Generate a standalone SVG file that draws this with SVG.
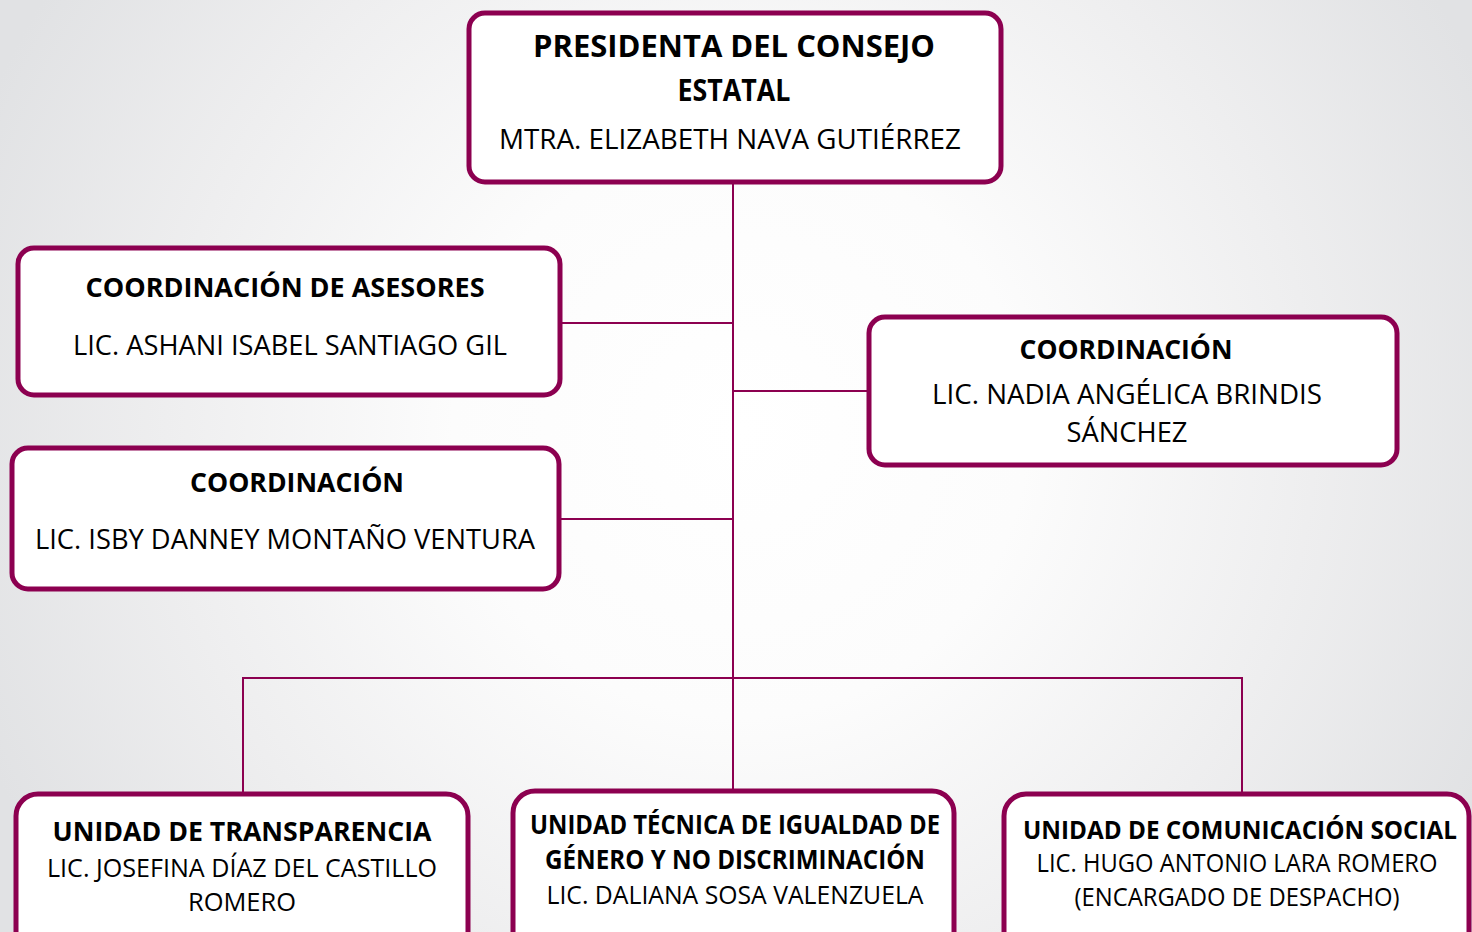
<svg xmlns="http://www.w3.org/2000/svg" width="1472" height="932" viewBox="0 0 1472 932">
<defs>
<radialGradient id="bg" gradientUnits="userSpaceOnUse" cx="740" cy="430" r="820">
<stop offset="0" stop-color="#ffffff"/>
<stop offset="0.35" stop-color="#fcfcfc"/>
<stop offset="0.7" stop-color="#eeeeef"/>
<stop offset="1" stop-color="#e1e2e4"/>
</radialGradient>
<style>
.box{fill:#ffffff;stroke:#8c0050;stroke-width:5}
.con{fill:none;stroke:#8c0050;stroke-width:2}
.t{font-family:"Open Sans","Liberation Sans",sans-serif;font-weight:700;fill:#000;text-anchor:middle}
.n{font-family:"Open Sans","Liberation Sans",sans-serif;font-weight:400;fill:#000;text-anchor:middle}
</style>
</defs>
<rect x="0" y="0" width="1472" height="932" fill="url(#bg)"/>
<g id="connectors">
<line class="con" x1="733" y1="182" x2="733" y2="791"/>
<line class="con" x1="560" y1="323" x2="733" y2="323"/>
<line class="con" x1="733" y1="391" x2="869" y2="391"/>
<line class="con" x1="559" y1="519" x2="733" y2="519"/>
<polyline class="con" points="243,794 243,678 1242,678 1242,794"/>
</g>
<g id="presidenta">
<rect class="box" x="469" y="13" width="532" height="169" rx="16"/>
<text class="t" x="734" y="57" font-size="30" textLength="402" lengthAdjust="spacingAndGlyphs">PRESIDENTA DEL CONSEJO</text>
<text class="t" x="734" y="101" font-size="30" textLength="113" lengthAdjust="spacingAndGlyphs">ESTATAL</text>
<text class="n" x="730" y="149" font-size="28" textLength="462" lengthAdjust="spacingAndGlyphs">MTRA. ELIZABETH NAVA GUTIÉRREZ</text>
</g>
<g id="asesores">
<rect class="box" x="18" y="248" width="542" height="147" rx="16"/>
<text class="t" x="285" y="297" font-size="27" textLength="399" lengthAdjust="spacingAndGlyphs">COORDINACIÓN DE ASESORES</text>
<text class="n" x="290" y="355" font-size="27" textLength="434" lengthAdjust="spacingAndGlyphs">LIC. ASHANI ISABEL SANTIAGO GIL</text>
</g>
<g id="coord-isby">
<rect class="box" x="12" y="448" width="547" height="141" rx="16"/>
<text class="t" x="297" y="492" font-size="27" textLength="214" lengthAdjust="spacingAndGlyphs">COORDINACIÓN</text>
<text class="n" x="285" y="549" font-size="27" textLength="500" lengthAdjust="spacingAndGlyphs">LIC. ISBY DANNEY MONTAÑO VENTURA</text>
</g>
<g id="coord-nadia">
<rect class="box" x="869" y="317" width="528" height="148" rx="16"/>
<text class="t" x="1126" y="359" font-size="27" textLength="213" lengthAdjust="spacingAndGlyphs">COORDINACIÓN</text>
<text class="n" x="1127" y="404" font-size="27" textLength="390" lengthAdjust="spacingAndGlyphs">LIC. NADIA ANGÉLICA BRINDIS</text>
<text class="n" x="1127" y="442" font-size="27" textLength="121" lengthAdjust="spacingAndGlyphs">SÁNCHEZ</text>
</g>
<g id="transparencia">
<rect class="box" x="16" y="794" width="452" height="170" rx="22"/>
<text class="t" x="242" y="841" font-size="27" textLength="379" lengthAdjust="spacingAndGlyphs">UNIDAD DE TRANSPARENCIA</text>
<text class="n" x="242" y="877" font-size="26" textLength="390" lengthAdjust="spacingAndGlyphs">LIC. JOSEFINA DÍAZ DEL CASTILLO</text>
<text class="n" x="242" y="911" font-size="26" textLength="108" lengthAdjust="spacingAndGlyphs">ROMERO</text>
</g>
<g id="igualdad">
<rect class="box" x="513" y="791" width="441" height="173" rx="22"/>
<text class="t" x="735" y="834" font-size="26" textLength="410" lengthAdjust="spacingAndGlyphs">UNIDAD TÉCNICA DE IGUALDAD DE</text>
<text class="t" x="735" y="869" font-size="26" textLength="380" lengthAdjust="spacingAndGlyphs">GÉNERO Y NO DISCRIMINACIÓN</text>
<text class="n" x="735" y="904" font-size="26" textLength="377" lengthAdjust="spacingAndGlyphs">LIC. DALIANA SOSA VALENZUELA</text>
</g>
<g id="comunicacion">
<rect class="box" x="1004" y="794" width="465" height="170" rx="22"/>
<text class="t" x="1240" y="839" font-size="24.5" textLength="434" lengthAdjust="spacingAndGlyphs">UNIDAD DE COMUNICACIÓN SOCIAL</text>
<text class="n" x="1237" y="872" font-size="25" textLength="401" lengthAdjust="spacingAndGlyphs">LIC. HUGO ANTONIO LARA ROMERO</text>
<text class="n" x="1237" y="906" font-size="25" textLength="325" lengthAdjust="spacingAndGlyphs">(ENCARGADO DE DESPACHO)</text>
</g>
</svg>
